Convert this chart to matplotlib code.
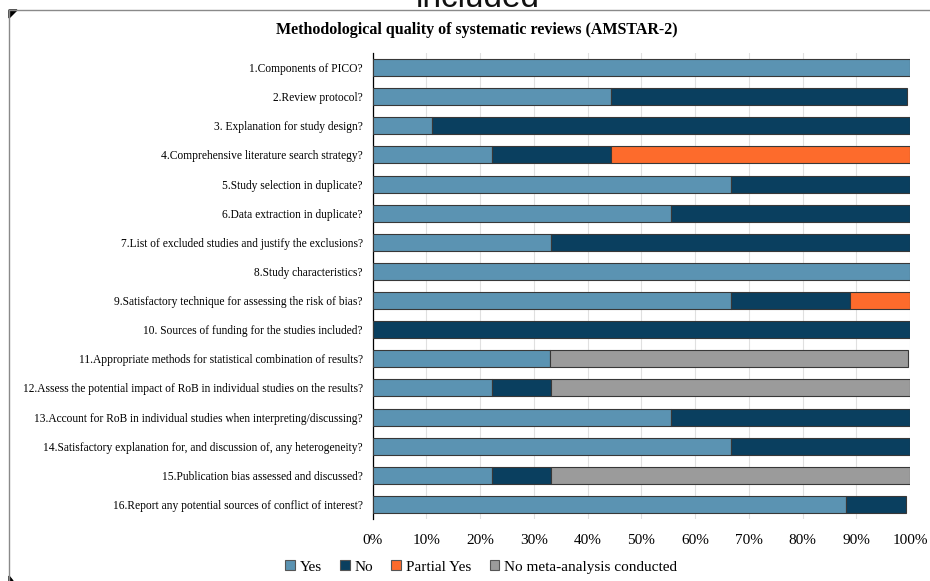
import matplotlib
matplotlib.use("Agg")
import matplotlib.pyplot as plt
from matplotlib.patches import Patch, Polygon
from matplotlib.lines import Line2D
import numpy as np

questions = [
    "1.Components of PICO?",
    "2.Review protocol?",
    "3. Explanation for study design?",
    "4.Comprehensive literature search strategy?",
    "5.Study selection in duplicate?",
    "6.Data extraction in duplicate?",
    "7.List of excluded studies and justify the exclusions?",
    "8.Study characteristics?",
    "9.Satisfactory technique for assessing the risk of bias?",
    "10. Sources of funding for the studies included?",
    "11.Appropriate methods for statistical combination of results?",
    "12.Assess the potential impact of RoB in individual studies on the results?",
    "13.Account for RoB in individual studies when interpreting/discussing?",
    "14.Satisfactory explanation for, and discussion of, any heterogeneity?",
    "15.Publication bias assessed and discussed?",
    "16.Report any potential sources of conflict of interest?",
]

yes_pct     = [100, 44.4, 11.1, 22.2, 66.7, 55.6, 33.3, 100, 66.7, 0, 33.0, 22.2, 55.6, 66.7, 22.2, 88.0]
no_pct      = [0, 55.0, 88.9, 22.2, 33.3, 44.4, 66.7, 0, 22.2, 100, 0, 11.1, 44.4, 33.3, 11.1, 11.2]
partial_pct = [0, 0, 0, 55.6, 0, 0, 0, 0, 11.1, 0, 0, 0, 0, 0, 0, 0]
nometa_pct  = [0, 0, 0, 0, 0, 0, 0, 0, 0, 0, 66.7, 66.7, 0, 0, 66.7, 0]

series_names = ["Yes", "No", "Partial Yes", "No meta-analysis conducted"]
colors = ["#5b93b2", "#0a3f5f", "#fd6b2c", "#9b9b9b"]
tick_values = np.arange(0, 101, 10)

serif = ["Liberation Serif", "DejaVu Serif"]

fig = plt.figure(figsize=(9.3, 5.81), dpi=100)
ax = fig.add_axes([372.5 / 930, 1 - 519 / 581, (910 - 372.5) / 930, (519 - 53) / 581])

y = np.arange(len(questions))
left = np.zeros(len(questions))
for vals, col in zip([yes_pct, no_pct, partial_pct, nometa_pct], colors):
    v = np.array(vals, dtype=float)
    mask = v > 0
    ax.barh(y[mask], v[mask], left=left[mask], height=0.58, color=col,
            edgecolor="#383838", linewidth=0.8, zorder=3)
    left += v

ax.set_ylim(len(questions) - 0.5, -0.5)
ax.set_xlim(0, 100)
ax.set_yticks(y)
ax.set_yticklabels(questions, family=serif, fontsize=8.3)
ax.set_xticks(tick_values)
ax.set_xticklabels([f"{t}%" for t in tick_values], family=serif, fontsize=11)
ax.tick_params(axis="both", length=0)
ax.tick_params(axis="y", pad=7)
ax.tick_params(axis="x", pad=11)
ax.xaxis.grid(True, color="#e0e0e0", linewidth=0.8, zorder=0)
ax.set_axisbelow(True)
for s in ["top", "right", "bottom"]:
    ax.spines[s].set_visible(False)
ax.spines["left"].set_color("black")
ax.spines["left"].set_linewidth(0.9)

# Chart title
fig.text(477 / 930, 1 - 30 / 581, "Methodological quality of systematic reviews (AMSTAR-2)",
         family=serif, fontsize=11.5, fontweight="bold", ha="center", va="center")

# Caption heading clipped at the top edge
fig.text(478 / 930, 1 - 7 / 581, "included", family=["Liberation Sans", "DejaVu Sans"],
         fontsize=24, ha="center", va="baseline", color="#111111")

# Frame around the chart
fig.add_artist(Line2D([9 / 930, 1.0], [1 - 10 / 581, 1 - 10 / 581], color="#8a8a8a",
                      linewidth=1.0, transform=fig.transFigure))
fig.add_artist(Line2D([9 / 930, 9 / 930], [0.0, 1 - 10 / 581], color="#8a8a8a",
                      linewidth=1.0, transform=fig.transFigure))
fig.add_artist(Polygon([[9 / 930, 1 - 10 / 581], [17 / 930, 1 - 10 / 581],
                        [9 / 930, 1 - 18 / 581]], closed=True, color="black",
                       transform=fig.transFigure))
fig.add_artist(Polygon([[9 / 930, 0.0], [13 / 930, 0.0],
                        [9 / 930, 5 / 581]], closed=True, color="black",
                       transform=fig.transFigure))

handles = [Patch(facecolor=c, edgecolor="#555555", linewidth=0.8) for c in colors]
fig.legend(handles, series_names, loc="center", bbox_to_anchor=(481 / 930, 1 - 567 / 581),
           ncol=4, frameon=False, prop={"family": serif, "size": 11},
           handlelength=0.65, handleheight=0.65, handletextpad=0.3, columnspacing=1.2)

fig.savefig("out.png", dpi=100)
